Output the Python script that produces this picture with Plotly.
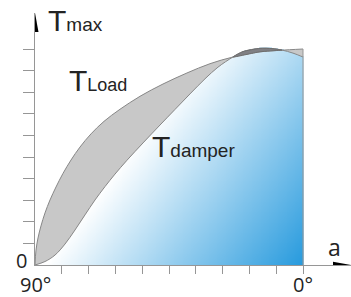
import numpy as np
import plotly.graph_objects as go

# ---- data (angle in degrees, torque in % of Tmax) ----
angle_load = [90, 89.66, 88.99, 87.99, 86.64, 84.96, 82.95, 80.60, 77.91, 74.89, 71.19,
              66.83, 61.46, 54.74, 47.01, 38.96, 31.22, 23.51, 14.44, 7.72, 0]
t_load = [0, 6.9, 12.5, 18.1, 24.1, 30.1, 36.1, 42.4, 48.6, 54.6, 60.7,
          66.5, 72.1, 78.1, 83.8, 88.9, 93.2, 96.3, 98.7, 99.4, 100]
angle_damper = [90, 86.64, 83.28, 79.93, 76.57, 73.21, 69.85, 66.49, 63.13, 59.10, 53.73,
                48.02, 42.99, 37.95, 32.91, 28.54, 23.51, 20.15, 14.44, 10.41, 7.05, 3.36, 0]
t_damper = [0, 1.6, 4.6, 9.7, 16.2, 23.2, 30.1, 36.3, 42.1, 48.5, 56.5,
            64.8, 72.0, 79.2, 86.2, 91.6, 96.3, 98.8, 100.3, 100.2, 99.5, 98.1, 96.3]
x_ticks = [81, 72, 63, 54, 45, 36, 27, 18, 9, 0]
y_ticks = [10, 20, 30, 40, 50, 60, 70, 80, 90, 100]

GRAY_LINE = "rgb(135,135,135)"
AXIS = "rgb(150,150,150)"
TXT = "rgb(35,35,35)"

fig = go.Figure()

# gradient fill under the damper curve (heatmap masked above the curve)
gx = np.linspace(0, 90, 300)
gy = np.linspace(0, 101, 240)
X, Y = np.meshgrid(gx, gy)
u = (90 - X) / 90.0
v = Y / 100.0
Z = np.clip((u - 0.4) * 1.0 + (0.6 - v) * 0.6, 0, 1)
dam_on_grid = np.interp(gx, angle_damper[::-1], t_damper[::-1])
Z = np.where(Y <= dam_on_grid[None, :] + 0.4, Z, np.nan)
fig.add_trace(go.Heatmap(x=gx, y=gy, z=np.round(Z, 3), zmin=0, zmax=1,
                         colorscale=[[0, "rgb(255,255,255)"], [1, "rgb(30,150,220)"]],
                         showscale=False, hoverinfo="skip", zsmooth=False))

# light gray band between the curves
fig.add_trace(go.Scatter(x=angle_damper, y=t_damper, mode="lines",
                         line=dict(color=GRAY_LINE, width=1, shape="spline", smoothing=1.0),
                         hoverinfo="skip"))
fig.add_trace(go.Scatter(x=angle_load, y=t_load, mode="lines", fill="tonexty",
                         fillcolor="rgb(200,200,200)",
                         line=dict(color=GRAY_LINE, width=1, shape="spline", smoothing=1.0),
                         hoverinfo="skip"))

# dark region where damper torque exceeds load torque
ad = np.array(angle_damper); td = np.array(t_damper)
al = np.array(angle_load); tl = np.array(t_load)
md = (ad <= 23.51) & (ad >= 7.0)
ml = (al <= 23.51) & (al >= 7.0)
px_ = list(ad[md]) + list(al[ml][::-1])
py_ = list(td[md]) + list(tl[ml][::-1])
fig.add_trace(go.Scatter(x=px_, y=py_, mode="lines", fill="toself",
                         fillcolor="rgb(128,128,132)",
                         line=dict(color="rgb(110,110,110)", width=1, shape="spline", smoothing=0.6),
                         hoverinfo="skip"))

# right edge at 0°
fig.add_shape(type="line", x0=0, x1=0, y0=0, y1=100, xref="x", yref="y",
              line=dict(color=AXIS, width=1))

# arrow heads
fig.add_shape(type="path", xref="x", yref="y", xsizemode="pixel", ysizemode="pixel",
              xanchor=90, yanchor=116.67, path="M -3.5 -19 L 0 0 L 3.5 -19 Z",
              fillcolor="black", line=dict(width=0))
fig.add_shape(type="path", xref="x", yref="y", xsizemode="pixel", ysizemode="pixel",
              xanchor=-16.12, yanchor=0, path="M 0 0 L -18 3.2 L -18 -3.2 Z",
              fillcolor="black", line=dict(width=0))

big = "Liberation Sans, Arial, sans-serif"
ann = [
    dict(x=86.3, y=107.9, text="T<span style='font-size:19px'>max</span>"),
    dict(x=79.2, y=80.0, text="T<span style='font-size:18px'>Load</span>"),
    dict(x=51.3, y=49.5, text="T<span style='font-size:19px'>damper</span>"),
]
for a in ann:
    fig.add_annotation(x=a["x"], y=a["y"], text=a["text"], showarrow=False,
                       xanchor="left", yanchor="bottom", yshift=-7,
                       font=dict(family=big, size=30, color=TXT))

small = dict(family="Open Sans, sans-serif", size=20, color=TXT)
fig.add_annotation(x=90, y=0, text="0", showarrow=False, xanchor="right",
                   yanchor="middle", xshift=-6, yshift=5, font=small)
fig.add_annotation(x=90, y=0, text="90°", showarrow=False, xanchor="center",
                   yanchor="top", yshift=-5, borderpad=0, font=small)
fig.add_annotation(x=0, y=0, text="0°", showarrow=False, xanchor="center",
                   yanchor="top", yshift=-5, borderpad=0, font=small)
fig.add_annotation(x=-10.5, y=0, text="a", showarrow=False, xanchor="center",
                   yanchor="bottom", yshift=0, font=dict(family="Open Sans, sans-serif", size=23, color=TXT))

fig.update_xaxes(range=[90, -16.12], showgrid=False, zeroline=False,
                 showline=True, linecolor=AXIS, linewidth=1.3,
                 tickmode="array", tickvals=x_ticks, ticks="outside", ticklen=8,
                 tickcolor=AXIS, tickwidth=1, showticklabels=False)
fig.update_yaxes(range=[0, 116.67], showgrid=False, zeroline=False,
                 showline=True, linecolor=AXIS, linewidth=1.3,
                 tickmode="array", tickvals=y_ticks, ticks="outside", ticklen=11,
                 tickcolor=AXIS, tickwidth=1, showticklabels=False)
fig.update_layout(width=351, height=297, margin=dict(l=35, r=0, t=13, b=32),
                  paper_bgcolor="white", plot_bgcolor="white", showlegend=False)
fig.write_html("out.html", config={"displayModeBar": False},
               post_script="document.body.style.margin='0';document.body.style.padding='0';")
